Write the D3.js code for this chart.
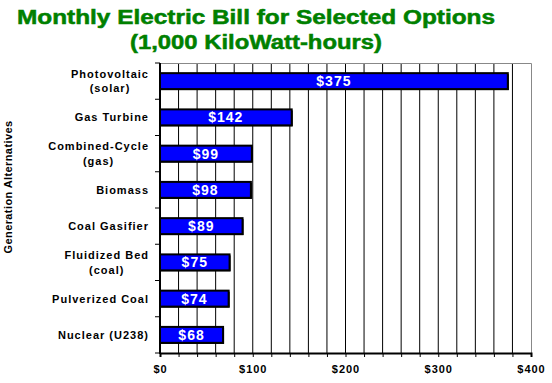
<!DOCTYPE html>
<html><head><meta charset="utf-8">
<script src="https://cdn.jsdelivr.net/npm/d3@7"></script>
<style>body{margin:0;background:#fff}svg{display:block}text{font-family:"Liberation Sans",Arial,sans-serif;font-weight:bold}</style>
</head><body><svg id="c" width="552" height="383"></svg>
<script>
const categories = [["Photovoltaic","(solar)"],["Gas Turbine"],["Combined-Cycle","(gas)"],["Biomass"],["Coal Gasifier"],["Fluidized Bed","(coal)"],["Pulverized Coal"],["Nuclear (U238)"]];
const values = [375,142,99,98,89,75,74,68];
const xTicks = [0,100,200,300,400];
const gridTicks = d3.range(0,401,20);
const titleLines = ["Monthly Electric Bill for Selected Options","(1,000 KiloWatt-hours)"];
const yTitle = "Generation Alternatives";

const svg = d3.select("#c");
const L=160,R=531,T=63,B=353;
const keys = categories.map(c=>c.join(" "));
const x = d3.scaleLinear().domain([0,400]).range([L,R]);
const y = d3.scaleBand().domain(keys).range([T,B]).paddingInner(0.56).paddingOuter(0.28);

// title
const titleW = [478, 252];
svg.append("g").selectAll("text").data(titleLines).join("text")
  .attr("x",256).attr("y",(d,i)=>24+i*25).attr("text-anchor","middle")
  .attr("textLength",(d,i)=>titleW[i]).attr("lengthAdjust","spacingAndGlyphs")
  .attr("fill","#008000").attr("stroke","#008000").attr("stroke-width",0.5)
  .style("font-size","20px").text(d=>d);

// grid
svg.append("g").selectAll("line").data(gridTicks.filter(d=>d>0&&d<400)).join("line")
  .attr("x1",d=>x(d)).attr("x2",d=>x(d)).attr("y1",T).attr("y2",B).attr("stroke","#000").attr("stroke-width",1);
// frame top/right
svg.append("path").attr("d",`M${L},${T+0.5}H${R+0.5}V${B}`).attr("fill","none").attr("stroke","#888").attr("stroke-width",1);

// bars
const bars = svg.append("g").selectAll("g").data(values).join("g");
bars.append("rect").attr("x",x(0)+1).attr("y",(d,i)=>y(keys[i])+1)
  .attr("width",d=>x(d)-x(0)).attr("height",y.bandwidth()).attr("fill","#000");
bars.append("rect").attr("x",x(0)).attr("y",(d,i)=>y(keys[i]))
  .attr("width",d=>x(d)-x(0)).attr("height",y.bandwidth()).attr("fill","#0000ff")
  .attr("stroke","#000").attr("stroke-width",2);
bars.append("text").attr("x",d=>(x(0)+x(d))/2).attr("y",(d,i)=>y(keys[i])+y.bandwidth()/2+5)
  .attr("text-anchor","middle").attr("fill","#fff").style("font-size","14px").style("letter-spacing","1px").text(d=>"$"+d);

// x axis
const xa = svg.append("g").attr("transform",`translate(0,${B})`)
  .call(d3.axisBottom(x).tickValues(gridTicks).tickSize(4).tickFormat(d=>xTicks.includes(d)?"$"+d:""));
xa.select(".domain").attr("stroke","#000").attr("stroke-width",2);
xa.selectAll(".tick line").attr("stroke","#000");
xa.selectAll("text").attr("fill","#000").style("font-size","11px").style("letter-spacing","1px")
  .style("font-family","Liberation Sans, Arial").style("font-weight","bold").attr("y",20).attr("dy",0);

// y axis
const ya = svg.append("g").attr("transform",`translate(${L},0)`);
ya.append("line").attr("x1",0).attr("x2",0).attr("y1",T).attr("y2",B+1).attr("stroke","#000").attr("stroke-width",2);
const bandStep = (B-T)/keys.length;
ya.selectAll("line.t").data(d3.range(0,keys.length+1)).join("line").attr("class","t")
  .attr("x1",-5).attr("x2",0).attr("y1",i=>T+i*bandStep).attr("y2",i=>T+i*bandStep).attr("stroke","#000");

const labs = svg.append("g").selectAll("text").data(categories).join("text")
  .style("font-size","11px").style("letter-spacing","1px").attr("fill","#000");
labs.each(function(lines,i){
  const t = d3.select(this);
  const cy = y(keys[i])+y.bandwidth()/2;
  const ts = lines.map(l=>t.append("tspan").text(l));
  const widths = ts.map(s=>s.node().getComputedTextLength());
  const w = d3.max(widths);
  const cx = 149 - w/2;
  const n = lines.length;
  ts.forEach((s,j)=>s.attr("x",cx).attr("text-anchor","middle").attr("y",cy+4+(j-(n-1)/2)*14.4));
});

svg.append("text").attr("transform","translate(12,187) rotate(-90)").attr("text-anchor","middle")
  .style("font-size","11px").style("letter-spacing","0.4px").attr("fill","#000").text(yTitle);
</script></body></html>
